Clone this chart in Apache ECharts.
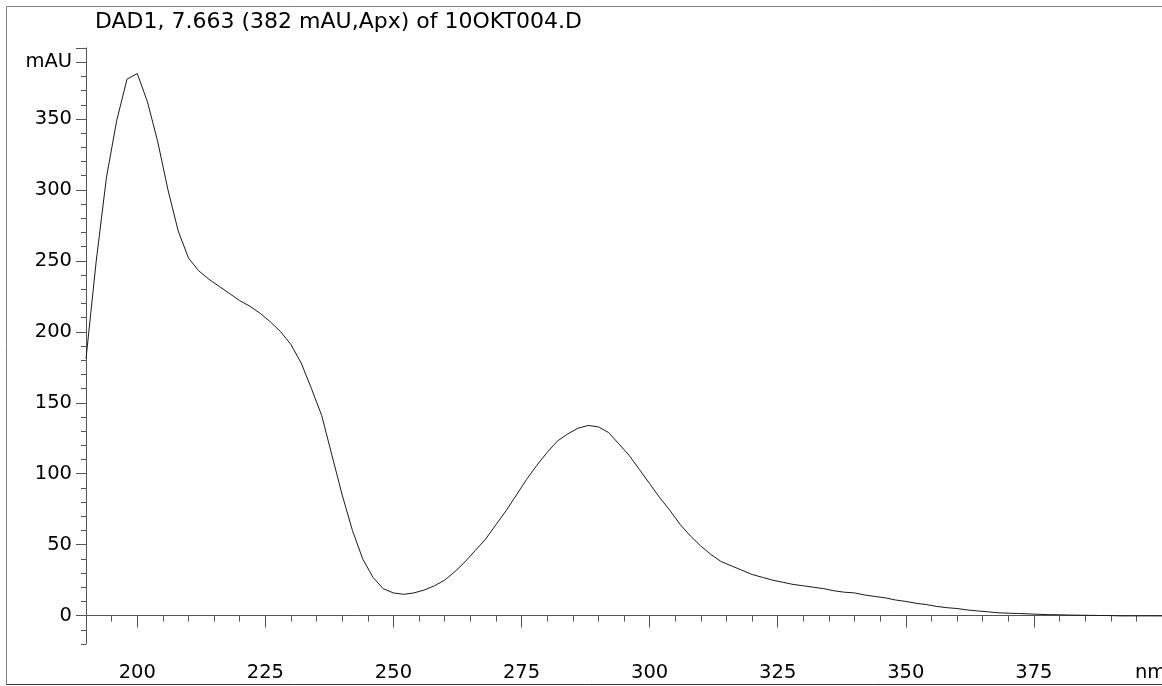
<!DOCTYPE html>
<html>
<head>
<meta charset="utf-8">
<title>DAD1 spectrum</title>
<script src="https://cdn.jsdelivr.net/npm/echarts@6/dist/echarts.min.js"></script>
<style>
  html, body { margin: 0; padding: 0; background: #fff; }
  #spectrum { width: 1162px; height: 686px; }
</style>
</head>
<body>
<div id="spectrum"></div>
<script>
// wavelength (nm) and absorbance (mAU)
const wavelengths = [
  190, 192, 194, 196, 198, 200, 202, 204, 206, 208,
  210, 212, 214, 216, 218, 220, 222, 224, 226, 228,
  230, 232, 234, 236, 238, 240, 242, 244, 246, 248,
  250, 252, 254, 256, 258, 260, 262, 264, 266, 268,
  270, 272, 274, 276, 278, 280, 282, 284, 286, 288,
  290, 292, 294, 296, 298, 300, 302, 304, 306, 308,
  310, 312, 314, 316, 318, 320, 322, 324, 326, 328,
  330, 332, 334, 336, 338, 340, 342, 344, 346, 348,
  350, 352, 354, 356, 358, 360, 362, 364, 366, 368,
  370, 372, 374, 376, 378, 380, 382, 384, 386, 388,
  390, 392, 394, 396, 398, 400
];
const absorbance = [
  181, 250, 309, 349, 378, 382, 362, 334, 300, 271,
  252, 243, 237, 232, 227, 222, 218, 213, 207, 200,
  191, 178, 160, 141, 113, 85, 60, 40, 27, 19,
  16, 15, 16, 18, 21, 25, 31, 38, 46, 54,
  64, 74, 85, 96, 106, 115, 123, 128, 132, 134,
  133, 129, 121, 113, 103, 93, 83, 74, 64, 56,
  49, 43, 38, 35, 32, 29, 27, 25, 23.5, 22,
  21, 20, 19, 17.5, 16.5, 16, 14.5, 13.5, 12.5, 11,
  10, 8.7, 7.8, 6.5, 5.6, 5, 4, 3.3, 2.7, 2,
  1.7, 1.5, 1.2, 0.9, 0.7, 0.6, 0.4, 0.3, 0.2, 0.1,
  0, -0.2, -0.2, -0.2, -0.2, -0.2
];
const xMajorTicks = [200, 225, 250, 275, 300, 325, 350, 375, 400];
const xLabels = [200, 225, 250, 275, 300, 325, 350, 375];
const yMajorTicks = [0, 50, 100, 150, 200, 250, 300, 350, 390, 400];
const yLabels = [0, 50, 100, 150, 200, 250, 300, 350, 390];

const titleText = "DAD1, 7.663 (382 mAU,Apx) of 10OKT004.D";
const font = "'DejaVu Sans', Verdana, sans-serif";
const axisColor = "#555";

const chart = echarts.init(document.getElementById("spectrum"));
const option = {
  animation: false,
  backgroundColor: "#fff",
  title: {
    text: titleText,
    left: 95,
    top: 11,
    padding: 0,
    textStyle: { fontFamily: font, fontSize: 22, fontWeight: "normal", color: "#000" }
  },
  grid: { left: 86, right: 0, top: 48, bottom: 42 },
  xAxis: [
    {
      type: "value",
      position: "bottom",
      min: 190,
      max: 400,
      axisLine: { show: true, lineStyle: { color: axisColor, width: 1 } },
      axisTick: { show: true, customValues: xMajorTicks, length: 12, lineStyle: { color: axisColor } },
      axisLabel: {
        customValues: xLabels,
        margin: 19,
        fontFamily: font,
        fontSize: 19.5,
        color: "#000"
      },
      splitLine: { show: false }
    },
    {
      type: "value",
      position: "bottom",
      min: 190,
      max: 400,
      interval: 5,
      axisLine: { show: false },
      axisTick: { show: true, length: 6, lineStyle: { color: axisColor } },
      axisLabel: { show: false },
      splitLine: { show: false }
    }
  ],
  yAxis: [
    {
      type: "value",
      position: "left",
      min: -20,
      max: 400,
      axisLine: { show: true, lineStyle: { color: axisColor, width: 1 } },
      axisTick: { show: true, customValues: yMajorTicks, length: 10, lineStyle: { color: axisColor } },
      axisLabel: {
        customValues: yLabels,
        margin: 14,
        fontFamily: font,
        fontSize: 19.5,
        color: "#000",
        formatter: v => (v === 390 ? "mAU" : String(v))
      },
      splitLine: { show: false }
    },
    {
      type: "value",
      position: "left",
      min: -20,
      max: 400,
      interval: 10,
      axisLine: { show: false },
      axisTick: { show: true, length: 5, lineStyle: { color: axisColor } },
      axisLabel: { show: false },
      splitLine: { show: false }
    }
  ],
  graphic: [
    { type: "line", shape: { x1: 6.5, y1: 6.5, x2: 1162, y2: 6.5 }, style: { stroke: "#808080", lineWidth: 1 } },
    { type: "line", shape: { x1: 6.5, y1: 6.5, x2: 6.5, y2: 685 }, style: { stroke: "#808080", lineWidth: 1 } },
    { type: "line", shape: { x1: 6.5, y1: 684.5, x2: 1162, y2: 684.5 }, style: { stroke: "#333", lineWidth: 1 } },
    {
      type: "text",
      left: 1135,
      top: 663,
      style: { text: "nm", font: "19.5px " + font, fill: "#000" }
    }
  ],
  series: [
    {
      type: "line",
      xAxisIndex: 0,
      yAxisIndex: 0,
      data: wavelengths.map((w, i) => [w, absorbance[i]]),
      showSymbol: false,
      smooth: false,
      lineStyle: { color: "#1a1a1a", width: 1 },
      itemStyle: { color: "#1a1a1a" }
    }
  ]
};
chart.setOption(option);
</script>
</body>
</html>
